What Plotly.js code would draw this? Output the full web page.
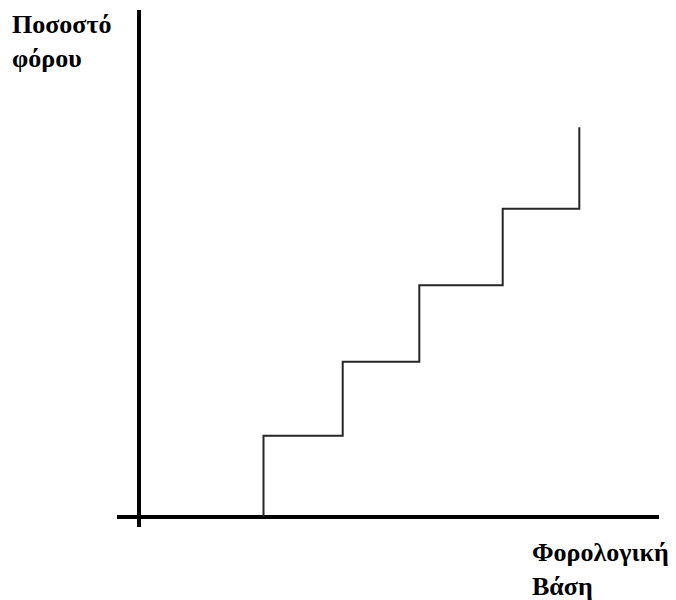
<!DOCTYPE html>
<html>
<head>
<meta charset="utf-8">
<script src="https://cdn.plot.ly/plotly-3.0.1.min.js"></script>
<style>html,body{margin:0;padding:0;background:#fff;}</style>
</head>
<body>
<div id="chart" style="width:676px;height:600px;"></div>
<script>
// Step tax schedule: tax base breakpoints and tax rate levels (arbitrary units)
var taxBase = [12.45, 20.37, 28.03, 36.37, 44.03, 44.03];
var taxRate = [0, 8.08, 15.48, 23.12, 30.78, 38.92];
var yTitleLines = ["Ποσοστό", "φόρου"];
var xTitleLines = ["Φορολογική", "Βάση"];

var trace = {
  x: taxBase,
  y: taxRate,
  type: 'scatter',
  mode: 'lines',
  line: {shape: 'vh', color: '#262626', width: 2},
  hoverinfo: 'skip',
  showlegend: false
};

var L = 117, R = 17, T = 10, B = 73, W = 676, H = 600;
var pw = W - L - R, ph = H - T - B;
function px(x) { return (x - L) / pw; }
function py(y) { return (H - B - y) / ph; }

var layout = {
  width: W, height: H,
  margin: {l: L, r: R, t: T, b: B, pad: 0},
  paper_bgcolor: '#fff', plot_bgcolor: '#fff',
  showlegend: false,
  xaxis: {
    range: [-2.2, 52.0], showgrid: false, showticklabels: false, ticks: '',
    showline: false, zeroline: true, zerolinecolor: '#000', zerolinewidth: 3.5,
    fixedrange: true
  },
  yaxis: {
    range: [-1.05, 50.65], showgrid: false, showticklabels: false, ticks: '',
    showline: false, zeroline: true, zerolinecolor: '#000', zerolinewidth: 4,
    fixedrange: true
  },
  annotations: [
    {
      text: '<b>' + yTitleLines.join('<br>') + '</b>',
      xref: 'paper', yref: 'paper', x: px(10), y: py(8),
      xanchor: 'left', yanchor: 'top', align: 'left', showarrow: false,
      font: {family: 'Liberation Serif, DejaVu Serif, serif', size: 26, color: '#000'}
    },
    {
      text: '<b>' + xTitleLines.join('<br>') + '</b>',
      xref: 'paper', yref: 'paper', x: px(530), y: py(536),
      xanchor: 'left', yanchor: 'top', align: 'left', showarrow: false,
      font: {family: 'Liberation Serif, DejaVu Serif, serif', size: 26, color: '#000'}
    }
  ]
};

Plotly.newPlot('chart', [trace], layout, {staticPlot: true, displayModeBar: false});
</script>
</body>
</html>
